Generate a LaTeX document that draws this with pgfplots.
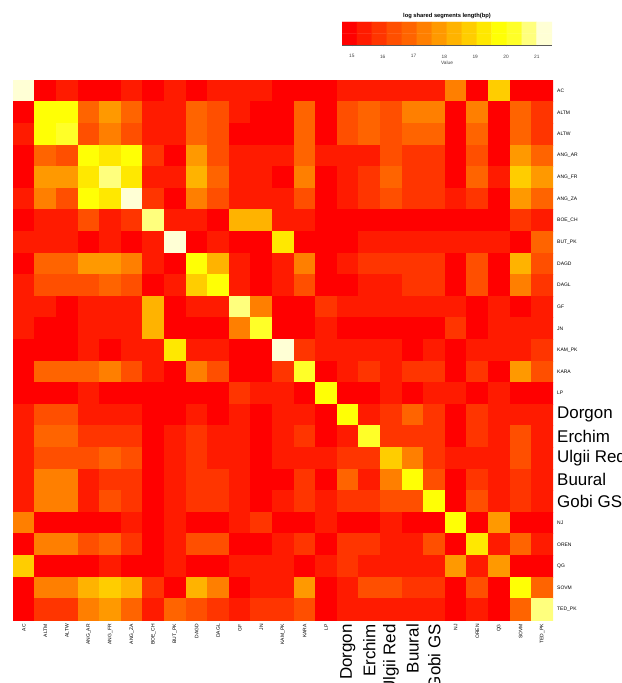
\documentclass[border=0pt]{standalone}
\usepackage{pgfplots}
\pgfplotsset{compat=1.18}
\usepackage{fontspec}
\setmainfont{Liberation Sans}
\newcommand\bl[1]{{\fontsize{17}{18}\selectfont #1}}
\pgfplotsset{
  colormap={heat}{rgb255=(255,0,0) rgb255=(255,26,0) rgb255=(255,51,0) rgb255=(255,77,0) rgb255=(255,102,0) rgb255=(255,128,0) rgb255=(255,153,0) rgb255=(255,179,0) rgb255=(255,204,0) rgb255=(255,230,0) rgb255=(255,255,0) rgb255=(255,255,43) rgb255=(255,255,128) rgb255=(255,255,213)},
}
\begin{document}
\begin{tikzpicture}
\useasboundingbox (-13bp,-63bp) rectangle (609bp,620bp);
\begin{axis}[
  at={(0,0)}, anchor=south west,
  scale only axis, width=540bp, height=540bp,
  xmin=-0.5, xmax=24.5, ymin=-0.5, ymax=24.5,
  axis line style={draw=none}, major tick length=0pt,
  xtick={0,...,24}, ytick={0,...,24},
  xticklabels={AC,ALTM,ALTW,ANG\_AR,ANG\_FR,ANG\_ZA,BOE\_CH,BUT\_PK,DAGD,DAGL,GF,JN,KAM\_PK,KARA,LP,\bl{Dorgon},\bl{Erchim},\bl{Ulgii Red},\bl{Buural},\bl{Gobi GS},NJ,OREN,QG,SOVM,TED\_PK},
  yticklabels={TED\_PK,SOVM,QG,OREN,NJ,\bl{Gobi GS},\bl{Buural},\bl{Ulgii Red},\bl{Erchim},\bl{Dorgon},LP,KARA,KAM\_PK,JN,GF,DAGL,DAGD,BUT\_PK,BOE\_CH,ANG\_ZA,ANG\_FR,ANG\_AR,ALTW,ALTM,AC},
  xticklabel style={rotate=90, anchor=east, inner sep=0pt, font=\fontsize{5}{6}\selectfont},
  yticklabel pos=right,
  yticklabel style={anchor=west, inner sep=0pt, font=\fontsize{5}{6}\selectfont},
  xticklabel shift=4bp, yticklabel shift=4bp,
  colormap name=heat,
  point meta min=14.9, point meta max=21.2,
  enlargelimits=false,
]
\addplot[matrix plot*, mesh/cols=25, point meta=explicit]
 table[row sep=\\, x expr={\coordindex-25*floor((\coordindex+0.5)/25)}, y expr={24-floor((\coordindex+0.5)/25)}, meta=v] {
v\\
21.2\\14.9\\15.4\\14.9\\14.9\\15.4\\14.9\\15.4\\14.9\\15.4\\15.4\\15.4\\14.9\\14.9\\14.9\\15.4\\15.4\\15.4\\15.4\\15.4\\17.3\\14.9\\18.8\\14.9\\14.9\\
14.9\\19.8\\19.8\\16.8\\17.8\\16.8\\15.4\\15.4\\16.8\\16.4\\15.4\\14.9\\14.9\\16.8\\14.9\\16.4\\16.8\\16.4\\17.3\\17.3\\14.9\\17.3\\14.9\\16.8\\15.9\\
15.4\\19.8\\20.2\\16.4\\17.3\\16.4\\15.4\\15.4\\16.8\\16.4\\14.9\\14.9\\14.9\\16.8\\14.9\\16.4\\16.8\\16.4\\16.8\\16.8\\14.9\\16.8\\14.9\\16.8\\15.9\\
14.9\\16.8\\16.4\\19.8\\19.3\\19.8\\15.9\\14.9\\17.8\\16.4\\15.4\\15.4\\15.4\\16.8\\15.4\\15.4\\15.4\\16.4\\15.9\\15.9\\14.9\\16.4\\14.9\\17.8\\16.8\\
14.9\\17.8\\17.8\\19.3\\20.7\\19.3\\15.4\\15.4\\18.3\\16.8\\15.4\\15.4\\14.9\\17.3\\14.9\\15.4\\15.9\\16.8\\15.9\\15.9\\14.9\\16.8\\15.4\\18.8\\17.8\\
15.4\\17.3\\16.4\\19.8\\19.3\\21.2\\15.9\\14.9\\17.3\\16.4\\15.4\\15.4\\15.4\\16.4\\14.9\\15.4\\15.9\\16.4\\15.9\\15.9\\15.4\\15.9\\14.9\\17.8\\16.8\\
14.9\\15.4\\15.4\\16.4\\15.4\\15.9\\20.7\\15.4\\15.4\\14.9\\18.3\\18.3\\15.4\\15.4\\14.9\\14.9\\14.9\\14.9\\14.9\\14.9\\14.9\\14.9\\14.9\\15.9\\15.4\\
15.4\\15.4\\15.4\\14.9\\15.4\\14.9\\15.4\\21.2\\14.9\\15.4\\14.9\\14.9\\19.3\\14.9\\14.9\\14.9\\15.4\\15.4\\15.4\\15.4\\15.4\\15.4\\15.4\\14.9\\16.8\\
14.9\\16.8\\16.8\\17.8\\17.8\\17.3\\15.4\\14.9\\19.8\\18.3\\15.4\\14.9\\15.4\\17.3\\14.9\\15.4\\15.9\\15.9\\15.9\\15.9\\14.9\\16.4\\14.9\\18.3\\16.4\\
15.4\\16.4\\16.4\\16.4\\16.8\\16.4\\14.9\\15.4\\18.8\\19.8\\15.4\\14.9\\15.4\\16.4\\14.9\\14.9\\15.4\\15.4\\15.9\\15.9\\14.9\\16.4\\14.9\\17.3\\15.9\\
15.4\\15.4\\14.9\\15.4\\15.4\\15.4\\18.3\\14.9\\15.4\\15.4\\20.7\\17.3\\14.9\\14.9\\15.9\\15.4\\15.4\\15.4\\15.4\\15.4\\15.4\\14.9\\15.4\\14.9\\15.4\\
15.4\\14.9\\14.9\\15.4\\15.4\\15.4\\18.3\\14.9\\14.9\\14.9\\17.3\\20.2\\14.9\\14.9\\15.4\\14.9\\14.9\\14.9\\14.9\\14.9\\15.9\\14.9\\15.4\\15.4\\15.4\\
14.9\\14.9\\14.9\\15.4\\14.9\\15.4\\15.4\\19.3\\15.4\\15.4\\14.9\\14.9\\21.2\\15.9\\15.4\\15.4\\15.4\\15.4\\14.9\\15.4\\14.9\\15.4\\15.4\\15.4\\15.9\\
14.9\\16.8\\16.8\\16.8\\17.3\\16.4\\15.4\\14.9\\17.3\\16.4\\14.9\\14.9\\15.9\\20.2\\14.9\\15.4\\15.9\\15.4\\15.9\\15.9\\14.9\\15.9\\14.9\\17.8\\16.4\\
14.9\\14.9\\14.9\\15.4\\14.9\\14.9\\14.9\\14.9\\14.9\\14.9\\15.9\\15.4\\15.4\\14.9\\19.8\\14.9\\14.9\\15.4\\14.9\\15.4\\15.4\\14.9\\15.4\\14.9\\14.9\\
15.4\\16.4\\16.4\\15.4\\15.4\\15.4\\14.9\\14.9\\15.4\\14.9\\15.4\\14.9\\15.4\\15.4\\14.9\\19.8\\15.4\\15.9\\16.8\\15.9\\14.9\\15.9\\15.4\\15.4\\15.4\\
15.4\\16.8\\16.8\\15.9\\15.9\\15.9\\14.9\\15.4\\15.9\\15.4\\15.4\\14.9\\15.4\\15.9\\14.9\\15.4\\20.2\\15.9\\15.9\\15.9\\14.9\\15.9\\15.4\\16.4\\15.4\\
15.4\\16.4\\16.4\\16.4\\16.8\\16.4\\14.9\\15.4\\15.9\\15.4\\15.4\\14.9\\15.4\\15.4\\15.4\\15.9\\15.9\\18.8\\17.3\\15.9\\15.4\\15.4\\15.4\\16.4\\15.4\\
15.4\\17.3\\17.3\\15.4\\15.9\\15.9\\14.9\\15.4\\15.9\\15.9\\15.4\\14.9\\14.9\\15.9\\14.9\\16.8\\15.4\\17.3\\19.8\\16.4\\14.9\\15.9\\15.4\\15.9\\15.4\\
15.4\\17.3\\17.3\\15.4\\16.4\\15.9\\14.9\\15.4\\15.9\\15.9\\15.4\\14.9\\15.4\\15.9\\15.4\\15.9\\15.9\\16.4\\16.4\\19.8\\14.9\\16.4\\15.4\\15.9\\15.4\\
17.3\\14.9\\14.9\\14.9\\14.9\\15.4\\14.9\\15.4\\14.9\\14.9\\15.4\\15.9\\14.9\\14.9\\15.4\\14.9\\14.9\\15.4\\14.9\\14.9\\19.8\\14.9\\17.8\\14.9\\14.9\\
14.9\\17.3\\17.3\\16.4\\16.8\\15.9\\14.9\\15.4\\16.4\\16.4\\14.9\\14.9\\15.4\\15.9\\14.9\\15.9\\15.9\\15.4\\15.4\\16.4\\14.9\\19.3\\15.4\\16.8\\15.4\\
18.8\\14.9\\14.9\\14.9\\15.4\\14.9\\14.9\\15.4\\14.9\\14.9\\15.4\\15.4\\15.4\\14.9\\15.4\\15.9\\15.4\\15.4\\15.4\\15.4\\17.8\\15.4\\17.8\\14.9\\14.9\\
14.9\\17.3\\17.3\\18.3\\18.8\\18.3\\15.9\\14.9\\18.3\\17.3\\14.9\\15.4\\15.4\\17.8\\14.9\\15.4\\16.4\\16.4\\15.9\\15.9\\14.9\\16.4\\14.9\\19.8\\16.8\\
14.9\\15.9\\15.9\\17.3\\17.8\\16.8\\15.4\\16.8\\16.4\\15.9\\15.4\\15.9\\15.9\\16.4\\14.9\\15.4\\15.4\\15.4\\15.4\\15.4\\14.9\\15.4\\14.9\\16.8\\20.7\\
};
\end{axis}
\begin{axis}[
  at={(329bp,575bp)}, anchor=south west,
  scale only axis, width=210bp, height=23bp,
  xmin=14.68, xmax=21.49, ymin=-0.5, ymax=1.5,
  axis y line=none, axis x line*=bottom,
  axis line style={gray!70!black, -},
  xtick={15,...,21}, ytick=\empty,
  /pgf/number format/assume math mode=true,
  tick align=outside, major tick length=1.5bp,
  tick style={gray!70!black},
  xticklabel style={font=\fontsize{4.8}{5}\selectfont, inner sep=1bp, text=black!75, yshift=-7bp},
  xlabel={Value},
  xlabel style={at={(axis description cs:0.5,0)}, anchor=center, yshift=-18bp, inner sep=0pt, font=\fontsize{4.8}{5}\selectfont, text=black!75},
  title={log shared segments length(bp)},
  title style={at={(axis description cs:0.5,1)}, anchor=south, inner sep=0pt, yshift=-3bp, font=\bfseries\fontsize{5.8}{6}\selectfont},
  colormap name=heat,
  point meta min=14.9, point meta max=21.2,
]
\addplot[matrix plot*, mesh/cols=14, point meta=explicit] table[row sep=\\, meta=v] {
x y v\\
14.92 0 14.9\\ 15.41 0 15.4\\ 15.89 0 15.9\\ 16.38 0 16.4\\ 16.86 0 16.8\\ 17.35 0 17.3\\ 17.84 0 17.8\\ 18.32 0 18.3\\ 18.81 0 18.8\\ 19.29 0 19.3\\ 19.78 0 19.8\\ 20.27 0 20.2\\ 20.75 0 20.7\\ 21.24 0 21.2\\
14.92 1 14.9\\ 15.41 1 15.4\\ 15.89 1 15.9\\ 16.38 1 16.4\\ 16.86 1 16.8\\ 17.35 1 17.3\\ 17.84 1 17.8\\ 18.32 1 18.3\\ 18.81 1 18.8\\ 19.29 1 19.3\\ 19.78 1 19.8\\ 20.27 1 20.2\\ 20.75 1 20.7\\ 21.24 1 21.2\\
};
\end{axis}
\end{tikzpicture}
\end{document}
